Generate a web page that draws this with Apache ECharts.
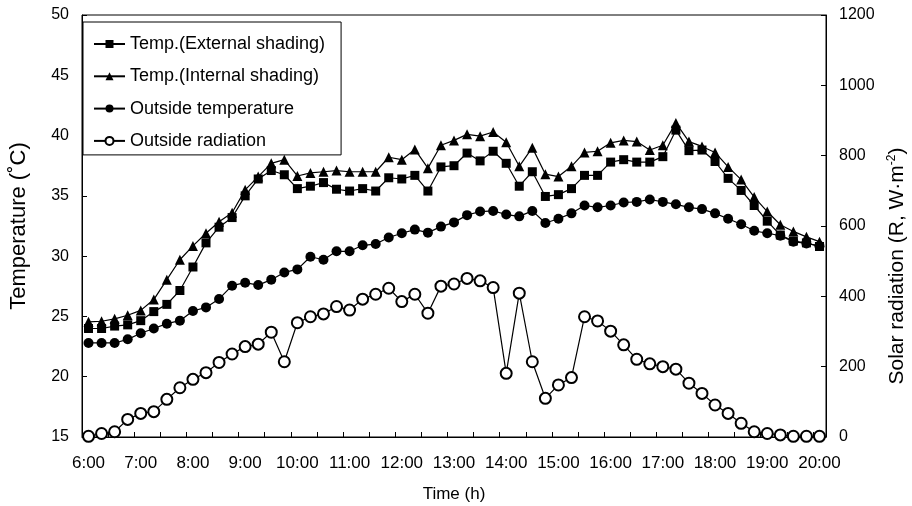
<!DOCTYPE html>
<html><head><meta charset="utf-8">
<script src="https://cdn.jsdelivr.net/npm/echarts@6/dist/echarts.min.js"></script>
<style>html,body{margin:0;padding:0;background:#fff}#c{width:912px;height:506px}</style>
</head><body><div id="c"></div>
<script>
const times = ["6:00","6:15","6:30","6:45","7:00","7:15","7:30","7:45","8:00","8:15","8:30","8:45",
  "9:00","9:15","9:30","9:45","10:00","10:15","10:30","10:45","11:00","11:15","11:30","11:45",
  "12:00","12:15","12:30","12:45","13:00","13:15","13:30","13:45","14:00","14:15","14:30","14:45",
  "15:00","15:15","15:30","15:45","16:00","16:15","16:30","16:45","17:00","17:15","17:30","17:45",
  "18:00","18:15","18:30","18:45","19:00","19:15","19:30","19:45","20:00"];

const tempExternal = [24.0,24.0,24.2,24.3,24.65,25.4,26.0,27.15,29.1,31.1,
  32.4,33.2,35.0,36.4,37.1,36.75,35.6,35.8,36.1,35.55,
  35.4,35.6,35.4,36.5,36.4,36.7,35.4,37.4,37.5,38.55,
  37.9,38.7,37.7,35.8,37.0,34.95,35.1,35.6,36.7,36.7,
  37.8,38.0,37.8,37.8,38.25,40.45,38.75,38.8,37.85,36.45,
  35.45,34.2,32.9,31.75,31.25,31.1,30.8];

const tempInternal = [24.55,24.6,24.8,25.1,25.5,26.4,28.05,29.7,30.85,31.9,
  32.85,33.6,35.5,36.6,37.7,38.0,36.65,36.9,37.0,37.1,
  37.0,37.0,37.0,38.2,38.0,38.85,37.3,39.2,39.6,40.1,
  39.95,40.3,39.45,37.45,39.0,36.8,36.6,37.45,38.6,38.7,
  39.4,39.6,39.5,38.8,39.2,41.05,39.5,39.1,38.6,37.4,
  36.35,34.9,33.7,32.6,32.05,31.6,31.2];

const outsideTemp = [22.8,22.8,22.8,23.1,23.6,24.0,24.4,24.65,25.45,25.75,
  26.45,27.55,27.8,27.6,28.05,28.65,28.9,29.95,29.7,30.4,
  30.4,30.9,31.0,31.55,31.9,32.2,31.95,32.45,32.8,33.4,
  33.7,33.75,33.45,33.3,33.75,32.75,33.1,33.55,34.2,34.05,
  34.2,34.45,34.5,34.7,34.5,34.3,34.05,33.9,33.55,33.1,
  32.65,32.1,31.9,31.7,31.2,31.05,30.85];

const outsideRadiation = [2,10,15,50,67,72,107,140,164,183,
  212,236,257,264,298,214,325,342,350,371,
  361,392,406,423,385,406,352,429,435,451,
  444,425,181,409,214,110,148,169,342,330,
  301,262,221,208,200,193,153,124,91,67,
  39,15,10,6,2,2,2];

const tempTicks = {min:15, max:50, interval:5};
const radTicks = {min:0, max:1200, interval:200};

const FONT = 'Arial, "Liberation Sans", sans-serif';
const chart = echarts.init(document.getElementById('c'));
const axisCommon = {
  axisLine:{show:true, lineStyle:{color:'#000', width:1}},
  axisTick:{show:true, inside:true, length:5, lineStyle:{color:'#000'}},
  splitLine:{show:false},
  axisLabel:{color:'#000', fontSize:16, fontFamily:FONT, margin:13, formatter:function(v){return String(v);}}
};
chart.setOption({
  backgroundColor:'#fff',
  animation:false,
  textStyle:{fontFamily:FONT, color:'#000'},
  grid:{left:82, right:86, top:15, bottom:69, show:true, borderColor:'#000', borderWidth:1,
        containLabel:false, outerBoundsMode:'none'},
  legend:{
    orient:'vertical', left:83, top:22,
    backgroundColor:'#fff', borderColor:'#000', borderWidth:1,
    padding:[13,16,5,10], itemGap:14.3, itemWidth:31, itemHeight:10,
    textStyle:{fontSize:18, color:'#000', fontFamily:FONT},
    data:['Temp.(External shading)','Temp.(Internal shading)','Outside temperature','Outside radiation']
  },
  xAxis:{
    type:'category', data:times, boundaryGap:true,
    axisLine:{show:true, lineStyle:{color:'#000'}},
    axisTick:{show:true, inside:true, interval:1, length:5, lineStyle:{color:'#000'}},
    axisLabel:{interval:3, color:'#000', fontSize:17, fontFamily:FONT, margin:18},
    name:'Time (h)', nameLocation:'middle', nameGap:49,
    nameTextStyle:{fontSize:17, color:'#000', fontFamily:FONT}
  },
  yAxis:[
    Object.assign({}, axisCommon, {
      type:'value', position:'left', min:tempTicks.min, max:tempTicks.max, interval:tempTicks.interval,
      name:'Temperature (\u02daC)', nameLocation:'middle', nameGap:52,
      nameTextStyle:{fontSize:22, color:'#000', fontFamily:FONT}
    }),
    Object.assign({}, axisCommon, {
      type:'value', position:'right', min:radTicks.min, max:radTicks.max, interval:radTicks.interval,
      name:'Solar radiation (R, W\u00b7m{sup|-2})', nameLocation:'middle', nameGap:56,
      nameTextStyle:{fontSize:21, color:'#000', fontFamily:FONT, lineHeight:24, padding:[0,80,0,0],
        rich:{sup:{fontSize:12, verticalAlign:'top', lineHeight:24, fontFamily:FONT, color:'#000'}}}
    })
  ],
  series:[
    {name:'Temp.(External shading)', type:'line', data:tempExternal, yAxisIndex:0,
     symbol:'rect', symbolSize:9, showAllSymbol:true,
     itemStyle:{color:'#000'}, lineStyle:{color:'#000', width:1.2}},
    {name:'Temp.(Internal shading)', type:'line', data:tempInternal, yAxisIndex:0,
     symbol:'triangle', symbolSize:10, showAllSymbol:true,
     itemStyle:{color:'#000'}, lineStyle:{color:'#000', width:1.2}},
    {name:'Outside temperature', type:'line', data:outsideTemp, yAxisIndex:0,
     symbol:'circle', symbolSize:10, showAllSymbol:true,
     itemStyle:{color:'#000'}, lineStyle:{color:'#000', width:1.2}},
    {name:'Outside radiation', type:'line', data:outsideRadiation, yAxisIndex:1,
     symbol:'emptyCircle', symbolSize:11, showAllSymbol:true,
     itemStyle:{color:'#000', borderWidth:1}, lineStyle:{color:'#000', width:1.2}}
  ]
});
</script>
</body></html>
